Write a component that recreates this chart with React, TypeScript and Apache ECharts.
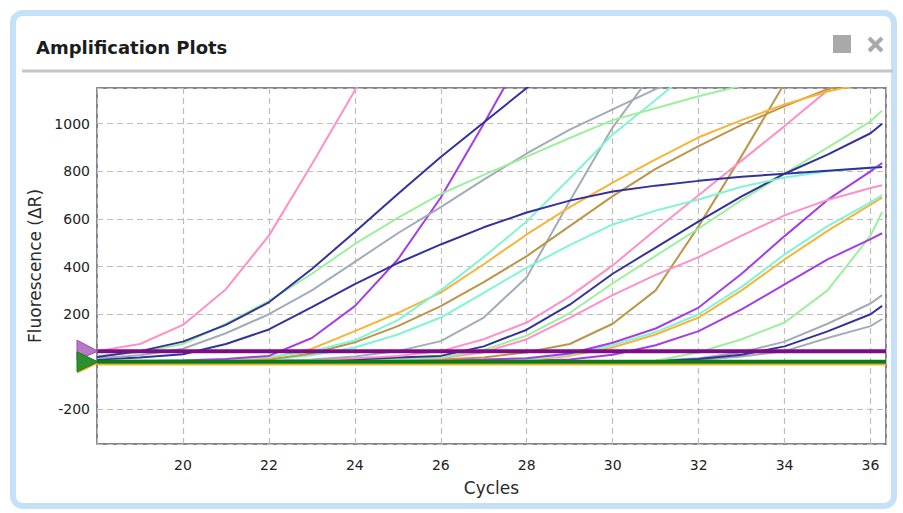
import React, { useEffect, useRef } from "react";
import * as echarts from "echarts";

// ---- axes ----
const CYCLES = [18, 19, 20, 21, 22, 23, 24, 25, 26, 27, 28, 29, 30, 31, 32, 33, 34, 35, 36, 36.27];
const X_MIN = 18;
const X_MAX = 36.36;
const Y_MIN = -345;
const Y_MAX = 1150;

// ---- thresholds ----
const PURPLE_THRESHOLD = 45;
const GREEN_THRESHOLD = 0;
const ORANGE_BASELINE = -11;

// ---- amplification curves (one value per cycle, null = off chart) ----
const pinkEarly = [45, 75, 155, 305, 530, 830, 1140, 1460, null, null, null, null, null, null, null, null, null, null, null, null];
const navyEarly = [20, 45, 85, 155, 250, 390, 545, 705, 860, 1005, 1150, 1290, null, null, null, null, null, null, null, null];
const greenEarly = [25, 40, 75, 160, 255, 370, 495, 605, 705, 785, 862, 940, 1015, 1065, 1115, 1160, null, null, null, null];
const grayEarly = [15, 28, 55, 120, 200, 300, 420, 540, 650, 765, 875, 975, 1060, 1145, 1220, null, null, null, null, null];
const navyFlat = [10, 18, 32, 75, 136, 230, 326, 415, 493, 565, 627, 677, 715, 740, 760, 777, 790, 803, 815, 818];
const purpleEarly = [0, 3, 6, 12, 25, 100, 234, 430, 690, 1000, 1320, null, null, null, null, null, null, null, null, null];
const tealSteep = [5, 6, 8, 10, 20, 45, 90, 175, 300, 440, 590, 770, 955, 1100, 1250, null, null, null, null, null];
const orangeMid = [5, 5, 6, 8, 15, 55, 129, 205, 291, 410, 535, 650, 753, 850, 943, 1015, 1081, 1135, 1175, null];
const brownMid = [0, 2, 3, 5, 10, 35, 82, 150, 234, 335, 444, 570, 696, 810, 906, 995, 1074, 1145, 1200, null];
const tealFlat = [0, 2, 3, 5, 8, 28, 60, 115, 186, 290, 396, 490, 577, 635, 682, 735, 774, 800, 815, 818];
const graySteep = [0, 0, 2, 3, 5, 10, 22, 45, 87, 186, 355, 675, 985, 1230, null, null, null, null, null, null];
const pinkLate = [0, 0, 2, 3, 5, 8, 15, 25, 45, 95, 165, 275, 405, 555, 700, 845, 990, 1140, 1280, null];
const navyLate = [0, 0, 0, 2, 3, 5, 10, 18, 25, 65, 135, 240, 370, 480, 590, 695, 790, 870, 960, 1000];
const greenLate = [0, 0, 0, 2, 3, 5, 8, 12, 18, 50, 110, 205, 330, 445, 560, 680, 790, 900, 1010, 1055];
const pinkFlat = [0, 0, 0, 2, 3, 4, 6, 10, 15, 40, 95, 185, 280, 365, 440, 530, 615, 680, 730, 742];
const brownSteep = [0, 0, 0, 0, 2, 3, 5, 8, 10, 18, 40, 75, 160, 300, 570, 865, 1170, null, null, null];
const purpleLate = [0, 0, 0, 0, 2, 3, 4, 6, 8, 10, 15, 35, 80, 140, 228, 370, 528, 680, 800, 835];
const tealLate = [0, 0, 0, 0, 0, 2, 3, 4, 5, 6, 10, 30, 70, 125, 200, 315, 451, 570, 670, 700];
const orangeLate = [0, 0, 0, 0, 0, 2, 3, 3, 4, 5, 8, 25, 60, 115, 186, 300, 430, 550, 660, 690];
const purpleLast = [0, 0, 0, 0, 0, 0, 2, 3, 4, 5, 6, 10, 30, 70, 129, 220, 325, 430, 515, 540];
const greenLast = [0, 0, 0, 0, 0, 0, 0, 1, 2, 2, 3, 3, 4, 5, 40, 95, 165, 300, 530, 630];
const grayLast1 = [0, 0, 0, 0, 0, 0, 0, 1, 1, 2, 2, 3, 4, 5, 15, 40, 85, 160, 245, 280];
const navyLast = [0, 0, 0, 0, 0, 0, 0, 1, 1, 1, 2, 2, 3, 3, 12, 30, 65, 128, 200, 235];
const grayLast2 = [0, 0, 0, 0, 0, 0, 0, 0, 1, 1, 1, 2, 2, 2, 8, 22, 45, 100, 150, 180];

const PINK = "#ff8fc8";
const NAVY = "#32329a";
const GREEN = "#9cf09c";
const GRAY = "#a2acb8";
const PURPLE = "#a43ee2";
const TEAL = "#80f4d4";
const ORANGE = "#f7b43a";
const BROWN = "#bb9648";

const CURVES: { name: string; color: string; values: (number | null)[] }[] = [
  { name: "grayLast2", color: GRAY, values: grayLast2 },
  { name: "grayLast1", color: GRAY, values: grayLast1 },
  { name: "navyLast", color: NAVY, values: navyLast },
  { name: "greenLast", color: GREEN, values: greenLast },
  { name: "purpleLast", color: PURPLE, values: purpleLast },
  { name: "orangeLate", color: ORANGE, values: orangeLate },
  { name: "tealLate", color: TEAL, values: tealLate },
  { name: "purpleLate", color: PURPLE, values: purpleLate },
  { name: "brownSteep", color: BROWN, values: brownSteep },
  { name: "pinkFlat", color: PINK, values: pinkFlat },
  { name: "greenLate", color: GREEN, values: greenLate },
  { name: "navyLate", color: NAVY, values: navyLate },
  { name: "pinkLate", color: PINK, values: pinkLate },
  { name: "graySteep", color: GRAY, values: graySteep },
  { name: "tealFlat", color: TEAL, values: tealFlat },
  { name: "brownMid", color: BROWN, values: brownMid },
  { name: "orangeMid", color: ORANGE, values: orangeMid },
  { name: "tealSteep", color: TEAL, values: tealSteep },
  { name: "purpleEarly", color: PURPLE, values: purpleEarly },
  { name: "navyFlat", color: NAVY, values: navyFlat },
  { name: "grayEarly", color: GRAY, values: grayEarly },
  { name: "greenEarly", color: GREEN, values: greenEarly },
  { name: "navyEarly", color: NAVY, values: navyEarly },
  { name: "pinkEarly", color: PINK, values: pinkEarly },
];

const FONT = "DejaVu Sans";

function toPoints(values: (number | null)[]) {
  const pts: [number, number][] = [];
  values.forEach((v, i) => {
    if (v !== null) pts.push([CYCLES[i], v]);
  });
  return pts;
}

function flat(value: number): [number, number][] {
  return [
    [X_MIN, value],
    [X_MAX, value],
  ];
}

export default function App() {
  const ref = useRef<HTMLDivElement>(null);

  useEffect(() => {
    const chart = echarts.init(ref.current!, null, { renderer: "svg" });

    const series: any[] = CURVES.map((c) => ({
      name: c.name,
      type: "line",
      data: toPoints(c.values),
      showSymbol: false,
      smooth: false,
      clip: true,
      silent: true,
      lineStyle: { color: c.color, width: 2 },
      itemStyle: { color: c.color },
      z: 2,
    }));

    series.push(
      {
        name: "baseline",
        type: "line",
        data: flat(ORANGE_BASELINE),
        showSymbol: false,
        silent: true,
        lineStyle: { color: "#f3b42c", width: 2 },
        z: 3,
      },
      {
        name: "greenThreshold",
        type: "line",
        data: flat(GREEN_THRESHOLD),
        showSymbol: false,
        silent: true,
        lineStyle: { color: "#0f7a14", width: 4 },
        z: 4,
      },
      {
        name: "purpleThreshold",
        type: "line",
        data: flat(PURPLE_THRESHOLD),
        showSymbol: false,
        silent: true,
        lineStyle: { color: "#7e0c86", width: 4 },
        z: 5,
      }
    );

    chart.setOption({
      animation: false,
      backgroundColor: "#ffffff",
      title: {
        text: "Amplification Plots",
        left: 31,
        top: 33,
        textStyle: { fontFamily: FONT, fontSize: 18, fontWeight: "bold", color: "#1c1c1c" },
      },
      grid: {
        left: 97,
        right: 17,
        top: 88,
        bottom: 69,
        show: true,
        borderColor: "#5c5c6a",
        borderWidth: 1.5,
        backgroundColor: "transparent",
      },
      xAxis: {
        type: "value",
        min: X_MIN,
        max: X_MAX,
        splitNumber: 9,
        name: "Cycles",
        nameLocation: "middle",
        nameGap: 35,
        nameTextStyle: { fontFamily: FONT, fontSize: 17, color: "#2a2a2a" },
        axisLine: { show: false },
        axisTick: { show: false },
        axisLabel: {
          fontFamily: FONT,
          fontSize: 14,
          color: "#222",
          margin: 14,
          showMinLabel: false,
          showMaxLabel: false,
        },
        splitLine: { show: true, lineStyle: { color: "#bdbdbd", width: 1.2, type: [6, 4] } },
      },
      yAxis: {
        type: "value",
        min: Y_MIN,
        max: Y_MAX,
        splitNumber: 7,
        name: "Fluorescence (ΔR)",
        nameLocation: "middle",
        nameGap: 49,
        nameTextStyle: { fontFamily: FONT, fontSize: 17, color: "#2a2a2a" },
        axisLine: { show: false },
        axisTick: { show: false },
        axisLabel: {
          fontFamily: FONT,
          fontSize: 14,
          color: "#222",
          margin: 7,
          showMinLabel: false,
          showMaxLabel: false,
          formatter: (v: number) => String(v),
        },
        splitLine: { show: true, lineStyle: { color: "#bdbdbd", width: 1.2, type: [6, 4] } },
      },
      series,
    });

    const [lx, py] = chart.convertToPixel({ xAxisIndex: 0, yAxisIndex: 0 }, [X_MIN, PURPLE_THRESHOLD]) as number[];
    const [, gy] = chart.convertToPixel({ xAxisIndex: 0, yAxisIndex: 0 }, [X_MIN, GREEN_THRESHOLD]) as number[];
    const tipX = lx + 1;
    const baseX = lx - 20;

    chart.setOption({
      graphic: [
        {
          type: "rect",
          id: "panel",
          z: -10,
          shape: { x: 13, y: 13, width: 881, height: 493, r: 10 },
          style: { fill: "#ffffff", stroke: "#c4e1f8", lineWidth: 6 },
          silent: true,
        },
        {
          type: "line",
          id: "sep",
          shape: { x1: 22, y1: 71, x2: 893, y2: 71 },
          style: { stroke: "#c6c6c6", lineWidth: 3 },
          silent: true,
        },
        {
          type: "rect",
          id: "iconSquare",
          shape: { x: 833, y: 35, width: 18, height: 18 },
          style: { fill: "#a9a9a9" },
          silent: true,
        },
        {
          type: "line",
          id: "iconX1",
          shape: { x1: 869, y1: 38, x2: 882, y2: 51 },
          style: { stroke: "#a9a9a9", lineWidth: 4 },
          silent: true,
        },
        {
          type: "line",
          id: "iconX2",
          shape: { x1: 882, y1: 38, x2: 869, y2: 51 },
          style: { stroke: "#a9a9a9", lineWidth: 4 },
          silent: true,
        },
        {
          type: "polygon",
          id: "triPurple",
          z: 10,
          shape: { points: [[baseX, py - 11], [baseX, py + 9], [tipX, py]] },
          style: { fill: "#b878c8", stroke: "#9a4aae", lineWidth: 1 },
          silent: true,
        },
        {
          type: "polygon",
          id: "triOrange",
          z: 10,
          shape: { points: [[baseX, gy - 8], [baseX, gy + 12], [tipX, gy + 2]] },
          style: { fill: "#f3b42c" },
          silent: true,
        },
        {
          type: "polygon",
          id: "triGreen",
          z: 11,
          shape: { points: [[baseX, gy - 10], [baseX, gy + 10], [tipX, gy]] },
          style: { fill: "#2f8f2f", stroke: "#1f7a1f", lineWidth: 1 },
          silent: true,
        },
      ],
    });

    return () => chart.dispose();
  }, []);

  return (
    <div
      ref={ref}
      style={{ position: "absolute", left: 0, top: 0, width: 903, height: 513 }}
    />
  );
}
